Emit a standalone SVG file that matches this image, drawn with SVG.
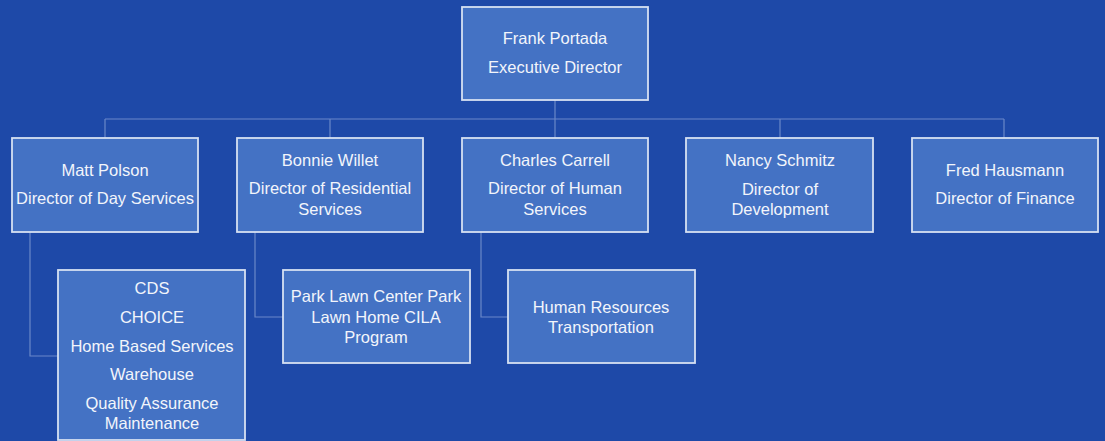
<svg xmlns="http://www.w3.org/2000/svg" width="1105" height="441" viewBox="0 0 1105 441">
<style>
.bg{fill:#1e49a8}
.box{fill:#4472c4;stroke:#d6e0f2;stroke-width:1.8}
.t{font-family:"Liberation Sans",Arial,sans-serif;font-size:16.5px;fill:#f2f5fb;text-anchor:middle}
.c{fill:none;stroke:#6a88c9;stroke-width:1.2}
</style>
<rect class="bg" x="0" y="0" width="1105" height="441"/>
<g id="connectors">
<path class="c" d="M555,100 V119 M105,119 H1004 M105,119 V138 M330,119 V138 M555,119 V138 M780,119 V138 M1004,119 V138"/>
<path class="c" d="M30,232 V356 H58"/>
<path class="c" d="M255,232 V317 H283"/>
<path class="c" d="M481,232 V317 H508"/>
</g>
<g id="frank">
<rect class="box" x="462" y="7" width="186" height="93"/>
<text class="t" x="555" y="44">Frank Portada</text>
<text class="t" x="555" y="73">Executive Director</text>
</g>
<g id="matt">
<rect class="box" x="12" y="138" width="186" height="94"/>
<text class="t" x="105" y="176">Matt Polson</text>
<text class="t" x="105" y="204">Director of Day Services</text>
</g>
<g id="bonnie">
<rect class="box" x="237" y="138" width="186" height="94"/>
<text class="t" x="330" y="166">Bonnie Willet</text>
<text class="t" x="330" y="194">Director of Residential</text>
<text class="t" x="330" y="215">Services</text>
</g>
<g id="charles">
<rect class="box" x="462" y="138" width="186" height="94"/>
<text class="t" x="555" y="166">Charles Carrell</text>
<text class="t" x="555" y="194">Director of Human</text>
<text class="t" x="555" y="215">Services</text>
</g>
<g id="nancy">
<rect class="box" x="686" y="138" width="187" height="94"/>
<text class="t" x="780" y="166">Nancy Schmitz</text>
<text class="t" x="780" y="195">Director of</text>
<text class="t" x="780" y="215">Development</text>
</g>
<g id="fred">
<rect class="box" x="912" y="138" width="186" height="94"/>
<text class="t" x="1005" y="176">Fred Hausmann</text>
<text class="t" x="1005" y="204">Director of Finance</text>
</g>
<g id="day-services">
<rect class="box" x="58" y="270" width="187" height="170"/>
<text class="t" x="152" y="294">CDS</text>
<text class="t" x="152" y="323">CHOICE</text>
<text class="t" x="152" y="352">Home Based Services</text>
<text class="t" x="152" y="380">Warehouse</text>
<text class="t" x="152" y="409">Quality Assurance</text>
<text class="t" x="152" y="429">Maintenance</text>
</g>
<g id="residential">
<rect class="box" x="283" y="270" width="187" height="93"/>
<text class="t" x="376" y="302">Park Lawn Center Park</text>
<text class="t" x="376" y="323">Lawn Home CILA</text>
<text class="t" x="376" y="343">Program</text>
</g>
<g id="human">
<rect class="box" x="508" y="270" width="187" height="93"/>
<text class="t" x="601" y="313">Human Resources</text>
<text class="t" x="601" y="333">Transportation</text>
</g>
</svg>
